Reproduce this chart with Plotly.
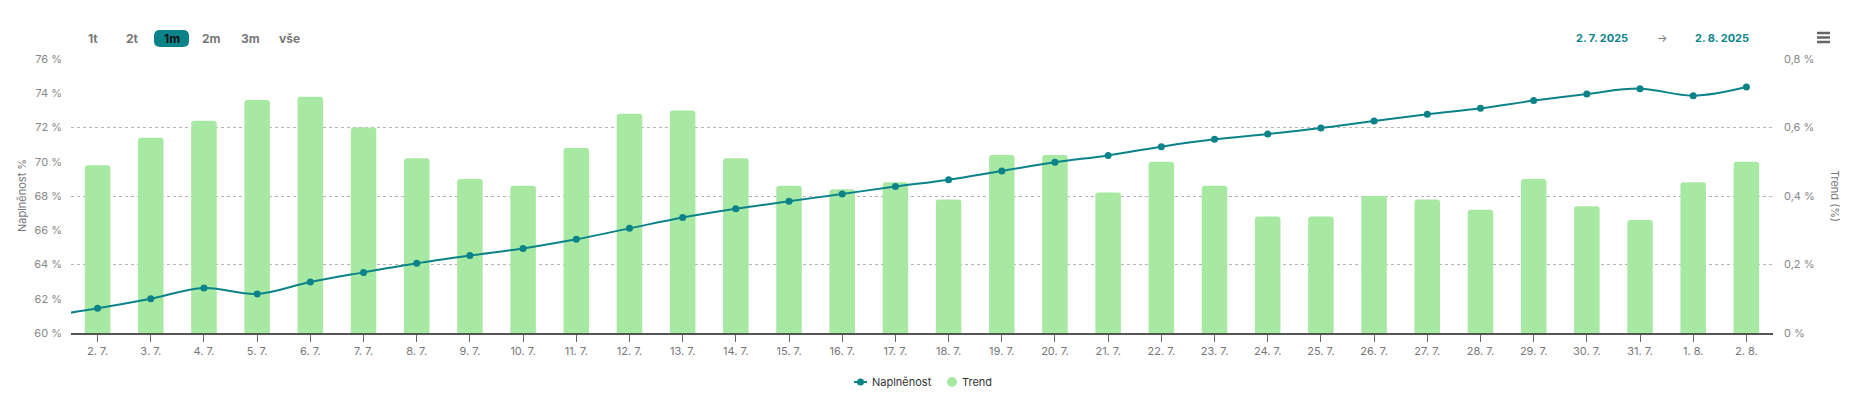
import plotly.graph_objects as go

# ---- data ----
dates = ["1. 7.", "2. 7.", "3. 7.", "4. 7.", "5. 7.", "6. 7.", "7. 7.", "8. 7.", "9. 7.", "10. 7.",
         "11. 7.", "12. 7.", "13. 7.", "14. 7.", "15. 7.", "16. 7.", "17. 7.", "18. 7.", "19. 7.",
         "20. 7.", "21. 7.", "22. 7.", "23. 7.", "24. 7.", "25. 7.", "26. 7.", "27. 7.", "28. 7.",
         "29. 7.", "30. 7.", "31. 7.", "1. 8.", "2. 8."]
naplnenost = [60.95, 61.44, 62.00, 62.63, 62.28, 62.98, 63.54, 64.07, 64.52, 64.94, 65.47,
              66.11, 66.75, 67.26, 67.69, 68.12, 68.55, 68.95, 69.46, 69.97, 70.37, 70.88,
              71.31, 71.62, 71.97, 72.38, 72.77, 73.12, 73.57, 73.96, 74.27, 73.86, 74.37]
trend = [None, 0.49, 0.57, 0.62, 0.68, 0.69, 0.60, 0.51, 0.45, 0.43, 0.54, 0.64, 0.65, 0.51,
         0.43, 0.42, 0.44, 0.39, 0.52, 0.52, 0.41, 0.50, 0.43, 0.34, 0.34, 0.40, 0.39, 0.36,
         0.45, 0.37, 0.33, 0.44, 0.50]
range_buttons = ["1t", "2t", "1m", "2m", "3m", "vše"]
selected_button = "1m"
date_from = "2. 7. 2025"
date_to = "2. 8. 2025"
series_names = ["Naplněnost", "Trend"]

TEAL = "#0b8389"
GREEN = "#a7e9a3"
GRAY = "#777777"
FONT = "Inter"

xs = list(range(len(dates)))

fig = go.Figure()
fig.add_trace(go.Bar(
    x=xs, y=trend, name=series_names[1], marker=dict(color=GREEN, line=dict(width=0)),
    yaxis="y",
))
fig.add_trace(go.Scatter(
    x=xs, y=naplnenost, name=series_names[0], mode="lines+markers", yaxis="y2",
    line=dict(color=TEAL, width=2, shape="spline", smoothing=1),
    marker=dict(color=TEAL, size=7),
))

# page body has an 8px margin: figure origin sits at (8, 8) in the window
OFF = 8
W, H = 1844, 385
L_ABS, R_ABS, T_ABS, B_ABS = 71, 1773, 59, 333   # plot area in window pixels
L = L_ABS - OFF
T = T_ABS - OFF
R = OFF + W - R_ABS
B = OFF + H - B_ABS
PW = R_ABS - L_ABS
PH = B_ABS - T_ABS


def px(x):
    return (x - L_ABS) / PW


def py(y):
    return (B_ABS - y) / PH


fig.update_layout(
    width=W, height=H,
    margin=dict(l=L, r=R, t=T, b=B, pad=0, autoexpand=False),
    paper_bgcolor="white", plot_bgcolor="white",
    separators=", ",
    showlegend=False,
    font=dict(family=FONT, size=11, color=GRAY),
    bargap=0.52,
    barcornerradius=3,
    xaxis=dict(
        range=[0.5, len(dates) - 0.5],
        tickvals=xs[1:], ticktext=dates[1:],
        showgrid=False, zeroline=False,
        showline=True, linecolor="#555555", linewidth=1.5,
        ticks="outside", ticklen=7, tickcolor="#666666", tickwidth=1,
        tickfont=dict(family=FONT, size=11, color=GRAY),
    ),
    yaxis=dict(
        side="right", range=[0, 0.8], dtick=0.2, ticksuffix=" %",
        showgrid=True, gridcolor="#b5b5b5", griddash="dot", gridwidth=1,
        zeroline=False, showline=False, ticks="",
        ticklabelstandoff=10,
        tickfont=dict(family=FONT, size=11, color="#888888"),
    ),
    yaxis2=dict(
        side="left", overlaying="y", range=[60, 76], dtick=2, ticksuffix=" %",
        showgrid=False, zeroline=False, showline=False, ticks="",
        ticklabelstandoff=8,
        tickfont=dict(family=FONT, size=11, color="#888888"),
    ),
)


def rrect_path(x0, y0, x1, y1, r):
    pts = [("M", x0 + r, y0), ("L", x1 - r, y0), ("Q", x1, y0, x1, y0 + r),
           ("L", x1, y1 - r), ("Q", x1, y1, x1 - r, y1), ("L", x0 + r, y1),
           ("Q", x0, y1, x0, y1 - r), ("L", x0, y0 + r), ("Q", x0, y0, x0 + r, y0)]
    out = []
    for p in pts:
        cmd = p[0]
        coords = p[1:]
        seg = []
        for i in range(0, len(coords), 2):
            seg.append(f"{px(coords[i]):.6f},{py(coords[i + 1]):.6f}")
        out.append(cmd + " " + " ".join(seg))
    return " ".join(out) + " Z"


annotations = [
    dict(text="Naplněnost %", x=px(22), y=0.5, xref="paper", yref="paper",
         textangle=-90, showarrow=False, xanchor="center", yanchor="middle",
         font=dict(family=FONT, size=11, color="#777777")),
    dict(text="Trend (%)", x=px(1823), y=0.5, xref="paper", yref="paper",
         textangle=90, showarrow=False, xanchor="center", yanchor="middle", xshift=12,
         font=dict(family=FONT, size=11, color="#777777")),
]

btn_centers = [93, 132, 171.5, 211, 250, 289]
shapes = []
for label, cx in zip(range_buttons, btn_centers):
    sel = label == selected_button
    if sel:
        shapes.append(dict(type="path", xref="paper", yref="paper",
                           path=rrect_path(cx - 17.5, 30, cx + 17.5, 47, 6),
                           fillcolor=TEAL, line=dict(width=0), layer="above"))
    annotations.append(dict(
        text=f"<b>{label}</b>", x=px(cx), y=py(38.5), xref="paper", yref="paper",
        showarrow=False, xanchor="center", yanchor="middle",
        font=dict(family=FONT, size=12, color="#111111" if sel else "#777777")))

annotations += [
    dict(text=f"<b>{date_from}</b>", x=px(1602), y=py(38), xref="paper", yref="paper",
         showarrow=False, xanchor="center", yanchor="middle",
         font=dict(family=FONT, size=11, color=TEAL)),
    dict(text="→", x=px(1662), y=py(38), xref="paper", yref="paper",
         showarrow=False, xanchor="center", yanchor="middle",
         font=dict(family=FONT, size=11, color="#777777")),
    dict(text=f"<b>{date_to}</b>", x=px(1722), y=py(38), xref="paper", yref="paper",
         showarrow=False, xanchor="center", yanchor="middle",
         font=dict(family=FONT, size=11, color=TEAL)),
]

# hamburger menu icon
for yy in (33, 37.5, 42):
    shapes.append(dict(type="line", xref="paper", yref="paper",
                       x0=px(1817), x1=px(1830), y0=py(yy), y1=py(yy),
                       line=dict(color="#666666", width=2.5)))

# legend (drawn manually to match the short line+dot and circle symbols)
LEG_Y = 382
shapes.append(dict(type="line", xref="paper", yref="paper",
                   x0=px(854), x1=px(867), y0=py(LEG_Y), y1=py(LEG_Y),
                   line=dict(color=TEAL, width=2)))
shapes.append(dict(type="circle", xref="paper", yref="paper",
                   x0=px(857), x1=px(864), y0=py(LEG_Y + 3.5), y1=py(LEG_Y - 3.5),
                   fillcolor=TEAL, line=dict(width=0)))
shapes.append(dict(type="circle", xref="paper", yref="paper",
                   x0=px(947), x1=px(957), y0=py(LEG_Y + 5), y1=py(LEG_Y - 5),
                   fillcolor=GREEN, line=dict(width=0)))
annotations += [
    dict(text=series_names[0], x=px(870), y=py(LEG_Y), xref="paper", yref="paper",
         showarrow=False, xanchor="left", yanchor="middle",
         font=dict(family=FONT, size=11, color="#333333")),
    dict(text=series_names[1], x=px(960), y=py(LEG_Y), xref="paper", yref="paper",
         showarrow=False, xanchor="left", yanchor="middle",
         font=dict(family=FONT, size=11, color="#333333")),
]

fig.update_layout(annotations=annotations, shapes=shapes)

fig.write_html("out.html", config={"displayModeBar": False})
